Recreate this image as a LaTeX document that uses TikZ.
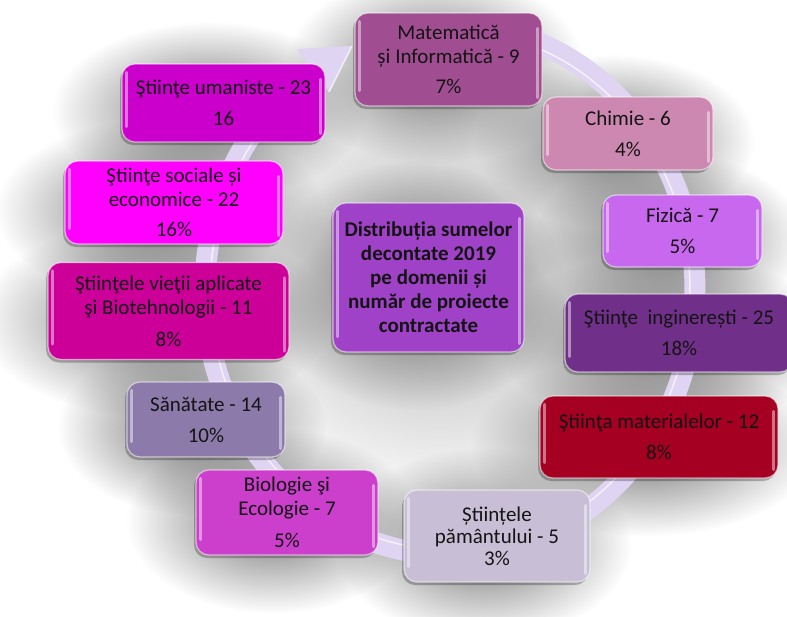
\documentclass[tikz,border=0pt]{standalone}
\usepackage{fontspec}
\setmainfont{Carlito}
\usetikzlibrary{shadows,fadings,arrows.meta}
\definecolor{cmat}{RGB}{160,78,145}
\definecolor{cchim}{RGB}{204,136,176}
\definecolor{cfiz}{RGB}{200,104,238}
\definecolor{cing}{RGB}{112,48,138}
\definecolor{cmtl}{RGB}{165,0,33}
\definecolor{cpam}{RGB}{200,190,214}
\definecolor{cbio}{RGB}{204,62,204}
\definecolor{csan}{RGB}{140,123,170}
\definecolor{cvie}{RGB}{204,0,153}
\definecolor{csoc}{RGB}{255,0,255}
\definecolor{cum}{RGB}{204,0,204}
\definecolor{cctr}{RGB}{160,66,200}
\definecolor{band}{RGB}{224,212,243}
\tikzfading[name=softblob, inner color=transparent!0, outer color=transparent!100]
\begin{document}
\begin{tikzpicture}[x=1pt,y=-1pt,
  box/.style={rounded corners=13pt, draw=white, draw opacity=0.55, line width=1.2pt,
    align=center, inner sep=0pt, text=black!92,
    font=\fontsize{21}{24}\selectfont,
    drop shadow={shadow xshift=-2pt, shadow yshift=-3pt, opacity=0.25, fill=black}},
  hl/.style={white, opacity=0.45, line width=3pt, line cap=round},
  blob/.style={path fading=softblob}]
\useasboundingbox (0,0) rectangle (787,616);
% background: soft shadows behind the boxes
\fill[white] (0,0) rectangle (787,616);
\fill[black!30, blob] (440,280) ellipse (250 and 230);
\foreach \x/\y/\w/\h in {448.5/59.5/187/93, 628/133.5/170/73, 682.5/231/159/72,
  679/333/228/78, 659/437/238/82, 497/536/186/92, 287/512.5/182/85,
  206/419.5/158/75, 168.5/311/241/97, 174/202.5/218/83, 223.5/103/203/78,
  428.5/277.5/191/149}{
  \fill[black!55, blob] (\x-14,\y+8) ellipse ({\w/2+55} and {\h/2+50});
}
% circular band with arrowhead
\draw[line width=21pt, band]
  plot[domain=-97:236, samples=150, smooth] ({450+245*cos(\x)},{290+265*sin(\x)});
\draw[white, opacity=0.7, line width=1.5pt]
  plot[domain=-90:232, samples=150, smooth] ({450+240*cos(\x)},{290+260*sin(\x)});
\coordinate (tipA) at (297,49);
\coordinate (tipB) at (352,46);
\coordinate (tipC) at (329,92);
\fill[band] (tipA) -- (tipB) -- (tipC) -- cycle;
\draw[white, opacity=0.7, line width=1.5pt] (tipB) -- (tipC);
% boxes
\node[box, fill=cmat, minimum width=187pt, minimum height=93pt] (mat) at (448.5,59.5)
  {Matematică\\și Informatică - 9\\[6pt]7\%};
\node[box, fill=cchim, minimum width=170pt, minimum height=73pt] (chim) at (628,133.5)
  {Chimie - 6\\[7pt]4\%};
\node[box, fill=cfiz, minimum width=159pt, minimum height=72pt] (fiz) at (682.5,231)
  {Fizică - 7\\[7pt]5\%};
\node[box, fill=cing, minimum width=228pt, minimum height=78pt] (ing) at (679,333)
  {Ştiinţe\ \ inginerești - 25\\[7pt]18\%};
\node[box, fill=cmtl, minimum width=238pt, minimum height=82pt] (mtl) at (659,437)
  {Ştiinţa materialelor - 12\\[7pt]8\%};
\node[box, fill=cpam, minimum width=186pt, minimum height=92pt, font=\fontsize{21}{22}\selectfont] (pam) at (497,536)
  {Științele\\pământului - 5\\3\%};
\node[box, fill=cbio, minimum width=182pt, minimum height=85pt] (bio) at (287,512.5)
  {Biologie şi\\Ecologie - 7\\[8pt]5\%};
\node[box, fill=csan, minimum width=158pt, minimum height=75pt] (san) at (206,419.5)
  {Sănătate - 14\\[7pt]10\%};
\node[box, fill=cvie, minimum width=241pt, minimum height=97pt] (vie) at (168.5,311)
  {Ştiinţele vieţii aplicate\\şi Biotehnologii - 11\\[8pt]8\%};
\node[box, fill=csoc, minimum width=218pt, minimum height=83pt] (soc) at (174,202.5)
  {Ştiinţe sociale și\\economice - 22\\[6pt]16\%};
\node[box, fill=cum, minimum width=203pt, minimum height=78pt] (um) at (223.5,103)
  {Ştiinţe umaniste - 23\\[7pt]16};
\node[box, fill=cctr, minimum width=191pt, minimum height=149pt, font=\bfseries\fontsize{21}{24}\selectfont] (ctr) at (428.5,277.5)
  {Distribuția sumelor\\decontate 2019\\pe domenii și\\număr de proiecte\\contractate};
% glossy highlights
\foreach \n in {mat,chim,fiz,ing,mtl,pam,bio,san,vie,soc,um,ctr}{
  \draw[hl] ([xshift=5pt,yshift=-9pt]\n.north west) -- ([xshift=5pt,yshift=16pt]\n.south west);
  \draw[hl] ([xshift=-5pt,yshift=-16pt]\n.north east) -- ([xshift=-5pt,yshift=9pt]\n.south east);
}
\end{tikzpicture}
\end{document}
